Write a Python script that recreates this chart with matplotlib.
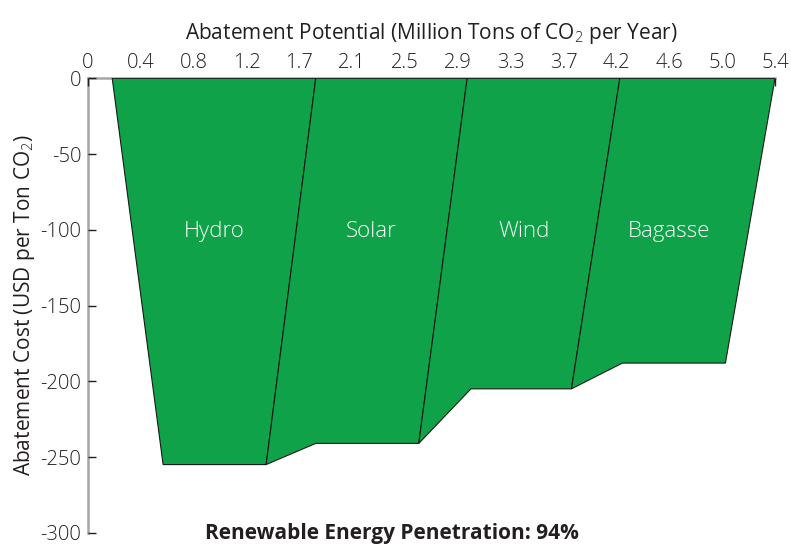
import matplotlib
matplotlib.use("Agg")
import matplotlib.pyplot as plt
from matplotlib.patches import Polygon
import numpy as np

plt.rcParams['font.family'] = ['Open Sans', 'DejaVu Sans']
plt.rcParams['font.weight'] = 'light'
plt.rcParams['mathtext.fontset'] = 'custom'
plt.rcParams['mathtext.rm'] = 'Open Sans:light'
plt.rcParams['mathtext.it'] = 'Open Sans:light'

# Data
categories = ["Hydro", "Solar", "Wind", "Bagasse"]
costs = [-255, -241, -205, -188]               # USD per ton CO2
top_left = [0.19, 1.79, 2.98, 4.18]            # potential at top edge
top_right = [1.79, 2.98, 4.18, 5.40]
bottom_left = [0.59, 1.79, 3.01, 4.20]
bottom_right = [1.40, 2.60, 3.80, 5.01]
label_x = [0.99, 2.23, 3.43, 4.57]
label_y = -101
xtick_labels = ["0", "0.4", "0.8", "1.2", "1.7", "2.1", "2.5", "2.9",
                "3.3", "3.7", "4.2", "4.6", "5.0", "5.4"]
yticks = [0, -50, -100, -150, -200, -250, -300]
penetration = 94

fill = "#0fa249"
txt = "#231f20"

fig = plt.figure(figsize=(7.91, 5.45), dpi=100)
ax = fig.add_axes([0.1113, 0.0225, 0.8685, 0.8338])

for i, cat in enumerate(categories):
    verts = [(top_left[i], 0), (top_right[i], 0),
             (bottom_right[i], costs[i]), (bottom_left[i], costs[i])]
    if i > 0:
        verts.append((bottom_right[i - 1], costs[i - 1]))
    ax.add_patch(Polygon(verts, closed=True, facecolor=fill,
                         edgecolor="#1a1a1a", linewidth=0.8, zorder=2))
    ax.text(label_x[i], label_y, cat, color="white", fontsize=16,
            ha="center", va="center", zorder=3)

ax.set_xlim(0, 5.4)
ax.set_ylim(-300, 0)
xt = np.linspace(0, 5.4, len(xtick_labels))
ax.set_xticks(xt)
ax.set_xticklabels(xtick_labels)
ax.set_yticks(yticks)
ax.set_yticklabels([str(v) for v in yticks])
ax.xaxis.tick_top()
ax.xaxis.set_label_position("top")
ax.tick_params(axis="x", direction="in", length=6, width=1, color="#231f20",
               labelsize=14.5, labelcolor=txt, pad=4, top=True, bottom=False)
ax.tick_params(axis="y", direction="in", length=6, width=1, color="#231f20",
               labelsize=14.5, labelcolor=txt, pad=5)
for s in ["right", "bottom"]:
    ax.spines[s].set_visible(False)
for s in ["left", "top"]:
    ax.spines[s].set_color("#a6a6a6")
    ax.spines[s].set_linewidth(1.8)
    ax.spines[s].set_zorder(1)

ax.set_xlabel("Abatement Potential (Million Tons of CO$_2$ per Year)",
              fontsize=15, color=txt, labelpad=10)
ax.set_ylabel("Abatement Cost (USD per Ton CO$_2$)", fontsize=15,
              color=txt, labelpad=2)

fig.text(0.496, 0.022, f"Renewable Energy Penetration: {penetration}%",
         fontsize=15, fontweight="bold", color=txt, ha="center", va="center")

fig.savefig("out.png", dpi=100)
